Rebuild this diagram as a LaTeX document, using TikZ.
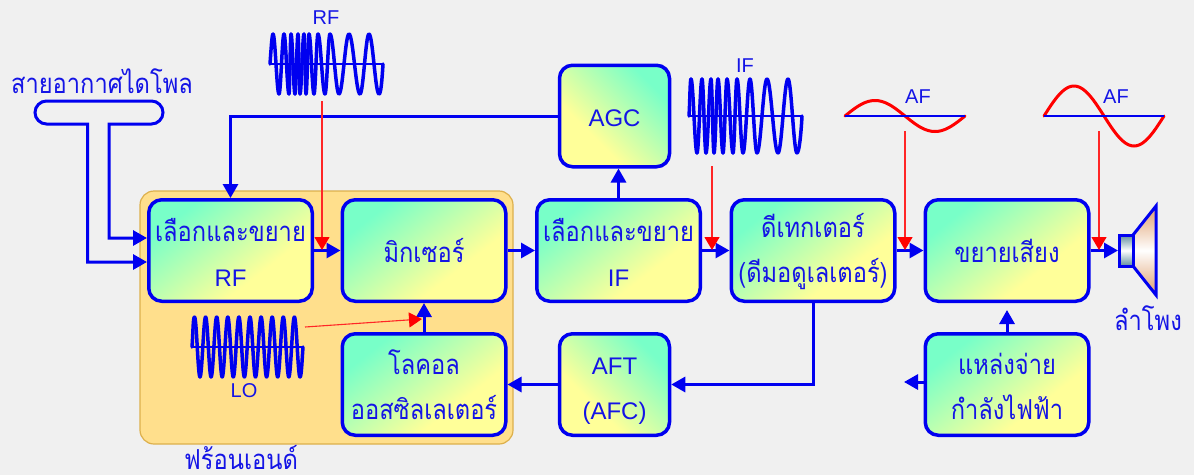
\documentclass[tikz,border=0pt]{standalone}
\usepackage{fontspec}
\setmainfont{Liberation Sans}
\newfontfamily\thaifont[Script=Thai,FakeStretch=0.86]{Loma}
\usetikzlibrary{arrows.meta}
\definecolor{bgc}{HTML}{F0F0F0}
\definecolor{blu}{HTML}{0000F0}
\definecolor{txtb}{HTML}{1414E6}
\definecolor{aq}{HTML}{78FFC8}
\definecolor{yy}{HTML}{FFFF99}
\definecolor{fe}{HTML}{FFDF8C}
\definecolor{feb}{HTML}{DDB04C}
\definecolor{redc}{HTML}{FF0000}
\definecolor{conec}{HTML}{DF9E6C}
\definecolor{rectc}{HTML}{5F8D9E}
\pgfdeclarehorizontalshading{diagshade}{100bp}{color(0bp)=(aq); color(27bp)=(aq); color(64bp)=(yy); color(100bp)=(yy)}
\newcommand{\halfwaves}[3]{% axis y, amplitude, extrema list (first is a peak)
  \foreach \xx [remember=\xx as \px, count=\ii] in {#3} {
    \ifnum\ii>1
      \pgfmathsetmacro{\ss}{isodd(\ii) ? -1 : 1}
      \pgfmathsetmacro{\dd}{0.37*(\xx-\px)}
      \draw[wavepen] (\px,{#1-\ss*#2}) .. controls ({\px+\dd},{#1-\ss*#2}) and ({\xx-\dd},{#1+\ss*#2}) .. (\xx,{#1+\ss*#2});
    \fi
  }
}
\newcommand{\lift}[1]{\rule{0pt}{#1pt}}
\tikzset{
  x=1pt,y=-1pt,
  box/.style={draw=blu,line width=3.5pt,rounded corners=13pt,minimum width=163.5pt,minimum height=101.5pt,inner sep=0pt,shading=diagshade,shading angle=-52,text=txtb,align=center,font=\fontsize{24}{45}\selectfont},
  nbox/.style={box,minimum width=110pt},
  rbox/.style={nbox,shading angle=225},
  flow/.style={draw=blu,line width=3pt,-{Triangle[length=14pt,width=15pt]}},
  sig/.style={draw=redc!85!white,line width=1.1pt,-{Triangle[length=13pt,width=15pt,fill=redc,color=redc]}},
  wavepen/.style={draw=blu,line width=3.5pt,line cap=round},
  waveaxis/.style={draw=blu,line width=2pt},
  tlabel/.style={text=txtb,font=\fontsize{20}{22}\selectfont,inner sep=0pt},
  thlabel/.style={text=txtb,font=\fontsize{27.5}{30}\selectfont\thaifont,inner sep=0pt},
  afwave/.style={draw=redc,line width=3pt,line cap=round},
  thbig/.style={font=\fontsize{27.5}{45}\selectfont},
}
\begin{document}
\begin{tikzpicture}
\useasboundingbox (0,0) rectangle (1194,475);
\fill[bgc] (0,0) rectangle (1194,475);
% front-end panel
\node[draw=feb,fill=fe,line width=1.2pt,rounded corners=14pt,minimum width=373pt,minimum height=253pt,inner sep=0pt] (front) at (326.5,317.5) {};
% boxes
\node[box,thbig] (rf) at (230.5,250.5) {\lift{26}{\thaifont เลือกและขยาย}\\{\fontsize{24}{45}\selectfont RF}};
\node[box,thbig] (mix) at (424,250.5) {{\thaifont มิกเซอร์}};
\node[box,thbig] (ifa) at (618.5,250.5) {\lift{26}{\thaifont เลือกและขยาย}\\{\fontsize{24}{45}\selectfont IF}};
\node[box,thbig] (det) at (813,250.5) {\lift{26}{\thaifont ดีเทกเตอร์}\\{\thaifont (ดีมอดูเลเตอร์)}};
\node[box,thbig] (amp) at (1007,250.5) {{\thaifont ขยายเสียง}};
\node[rbox] (agc) at (614.5,116) {\lift{22}AGC};
\node[rbox] (aft) at (614.5,384.5) {\lift{30}AFT\\(AFC)};
\node[box,thbig] (lo) at (424,384.5) {\lift{26}{\thaifont โลคอล}\\{\thaifont ออสซิลเลเตอร์}};
\node[box,thbig] (pwr) at (1007,384.5) {\lift{26}{\thaifont แหล่งจ่าย}\\{\thaifont กำลังไฟฟ้า}};
% free-end coordinates
\coordinate (in1) at (147,238);
\coordinate (in2) at (147,262);
\coordinate (pwrup) at (1007,310);
\coordinate (pwrleft) at (904,382);
\coordinate (spk) at (1118,250.5);
% antenna
\draw[draw=blu,line width=3pt,{Triangle[length=14pt,width=15pt]}-{Triangle[length=14pt,width=15pt]}]
  (in2) -- (87.5,262) -- (87.5,124) -- (46.5,124)
  .. controls (40.2,124) and (35,118.8) .. (35,112.5)
  .. controls (35,106.2) and (40.2,101) .. (46.5,101)
  -- (151.5,101)
  .. controls (157.8,101) and (163,106.2) .. (163,112.5)
  .. controls (163,118.8) and (157.8,124) .. (151.5,124)
  -- (109,124) -- (109,238) -- (in1);
% flows
\draw[flow] (rf.east) -- (mix.west);
\draw[flow] (mix.east) -- (ifa.west);
\draw[flow] (ifa.east) -- (det.west);
\draw[flow] (det.east) -- (amp.west);
\draw[flow] (amp.east) -- (spk);
\draw[flow] (agc.west) -| (rf.north);
\draw[flow] (ifa.north) -- (ifa.north |- agc.south);
\draw[flow] (lo.north) -- (mix.south);
\draw[flow] (det.south) |- (aft.east);
\draw[flow] (aft.west) -- (lo.east);
\draw[flow] (pwr.north) -- (pwrup);
\draw[flow] (pwr.west |- pwrleft) -- (pwrleft);
% waves
\draw[wavepen] (270,64) .. controls (271,50) and (272,34) .. (273,34);
\halfwaves{64}{30}{273,279,284,289,291,295,298,300,304,306,309,314,318,325,330,339,349,360,369,379}
\draw[wavepen] (379,94) .. controls (381,94) and (382,80) .. (383,64);
\draw[waveaxis] (270,64) -- (383,64);
\node[tlabel] (lrf) at (326,18) {RF};
\draw[wavepen] (689,116) .. controls (690,100) and (690,79) .. (691,79);
\halfwaves{116}{37}{691,697,702,706,711,714,718,723,727,733,737,743,750,757,767,778,788,797}
\draw[wavepen] (797,153) .. controls (799,153) and (801,135) .. (802,116);
\draw[waveaxis] (689,116) -- (802,116);
\node[tlabel] (lif) at (745,66) {IF};
\draw[wavepen] (192,347) .. controls (193,335) and (193,317) .. (194.5,317);
\halfwaves{347}{30}{194.5,200,205.6,211.1,216.7,222.2,227.8,233.3,238.9,244.4,250,255.5,261.1,266.6,272.2,277.7,283.3,288.8,294.4,300}
\draw[wavepen] (300,377) .. controls (301.5,377) and (302,360) .. (303,347);
\draw[waveaxis] (192,347) -- (303,347);
\node[tlabel] (llo) at (244,391) {LO};
% AF waves
\draw[afwave,domain=0:360,samples=73] plot ({845+\x/3},{116-15.5*sin(\x)});
\draw[waveaxis] (845,116) -- (965,116);
\node[tlabel] (laf1) at (918,97) {AF};
\draw[afwave,domain=0:360,samples=73] plot ({1044+\x/3},{116-30*sin(\x)});
\draw[waveaxis] (1044,116) -- (1164,116);
\node[tlabel] (laf2) at (1116,97) {AF};
% red signal markers
\coordinate (s1) at (322,101);
\coordinate (s1e) at (322,250);
\coordinate (s2) at (712,166);
\coordinate (s2e) at (712,250);
\coordinate (s3) at (905,131);
\coordinate (s3e) at (905,250);
\coordinate (s4) at (1099,131);
\coordinate (s4e) at (1099,250);
\coordinate (s5) at (305,327);
\coordinate (s5e) at (422,319);
\draw[sig] (s1) -- (s1e);
\draw[sig] (s2) -- (s2e);
\draw[sig] (s3) -- (s3e);
\draw[sig] (s4) -- (s4e);
\draw[sig] (s5) -- (s5e);
% speaker
\draw[draw=blu,line width=3pt,top color=conec,bottom color=conec,middle color=white] (1133,235) -- (1156,206) -- (1156,295) -- (1133,266) -- cycle;
\draw[draw=blu,line width=3pt,top color=rectc,bottom color=rectc,middle color=white] (1119,235) rectangle (1133,266);
% text labels
\node[thlabel] (lant) at (102,81) {สายอากาศไดโพล};
\node[thlabel] (lfe) at (241,458) {ฟร้อนเอนด์};
\node[thlabel] (lspk) at (1148,318) {ลำโพง};
\end{tikzpicture}
\end{document}
